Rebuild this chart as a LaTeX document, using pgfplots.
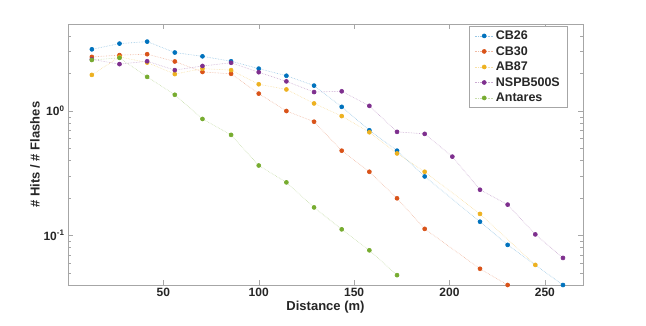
\documentclass[border=0pt]{standalone}
\usepackage{fontspec}
\setmainfont{Liberation Sans}
\usepackage{pgfplots}
\pgfplotsset{compat=1.18}

\definecolor{mblue}{rgb}{0,0.447,0.741}
\definecolor{mred}{rgb}{0.85,0.325,0.098}
\definecolor{myellow}{rgb}{0.929,0.694,0.125}
\definecolor{mpurple}{rgb}{0.494,0.184,0.556}
\definecolor{mgreen}{rgb}{0.466,0.674,0.188}

\pgfplotsset{
  ser/.style={#1!40, densely dotted, line width=0.6pt, mark=*, mark size=2pt,
              mark options={solid, #1}},
}

\begin{document}
\begin{tikzpicture}
  \useasboundingbox (-68pt,-40pt) rectangle (578pt,285pt);
  \begin{axis}[
    at={(0,0)}, anchor=south west,
    scale only axis,
    width=515pt, height=261pt,
    ymode=log,
    xmin=0, xmax=270,
    ymin=0.04, ymax=5,
    xtick={50,100,150,200,250},
    ytick={0.1,1},
    yticklabels={10\textsuperscript{-1},10\textsuperscript{0}},
    minor ytick={0.04,0.05,0.06,0.07,0.08,0.09,0.2,0.3,0.4,0.5,0.6,0.7,0.8,0.9,2,3,4,5},
    /pgf/number format/assume math mode=true,
    tick align=inside,
    major tick length=5pt,
    minor tick length=3pt,
    every tick/.style={gray!70},
    axis line style={gray!70},
    tick label style={font=\bfseries\fontsize{12}{14}\selectfont, text=black!85},
    xlabel={Distance (m)},
    ylabel={\# Hits / \# Flashes},
    xlabel style={font=\bfseries\fontsize{13}{15}\selectfont, text=black!85,
                  at={(axis description cs:0.5,-0.084)}, anchor=center},
    ylabel style={font=\bfseries\fontsize{13}{15}\selectfont, text=black!85,
                  at={(axis description cs:-0.064,0.5)}, anchor=center},
    clip=false,
    legend style={at={(0.969,0.992)}, anchor=north east, draw=gray!70,
                  font=\bfseries\fontsize{12.5}{14}\selectfont, text=black!85,
                  row sep=1.3pt, inner xsep=5pt, inner ysep=2.5pt},
    legend image code/.code={
      \draw[mark repeat=2, mark phase=2] plot coordinates {(0cm,0cm) (0.33cm,0cm) (0.66cm,0cm)};
    },
    legend cell align=left,
  ]
    \addplot[ser=mblue] coordinates {
      (12.5,3.13) (27,3.48) (41.5,3.61) (56,2.95) (70.5,2.75) (85.5,2.51)
      (100,2.19) (114.5,1.92) (129,1.60) (143.5,1.08) (158,0.70) (172.5,0.48)
      (187,0.298) (216,0.129) (230.5,0.084) (259.5,0.040)
    };
    \addlegendentry{CB26}
    \addplot[ser=mred] coordinates {
      (12.5,2.72) (27,2.81) (41.5,2.86) (56,2.50) (70.5,2.06) (85.5,1.99)
      (100,1.38) (114.5,1.00) (129,0.82) (143.5,0.48) (158,0.325) (172.5,0.199)
      (187,0.113) (216,0.054) (230.5,0.040)
    };
    \addlegendentry{CB30}
    \addplot[ser=myellow] coordinates {
      (12.5,1.95) (27,2.72) (41.5,2.45) (56,1.98) (70.5,2.19) (85.5,2.13)
      (100,1.64) (114.5,1.49) (129,1.15) (143.5,0.91) (158,0.675) (172.5,0.456)
      (187,0.325) (216,0.149) (245,0.058)
    };
    \addlegendentry{AB87}
    \addplot[ser=mpurple] coordinates {
      (12.5,2.6) (27,2.38) (41.5,2.51) (56,2.13) (70.5,2.30) (85.5,2.44)
      (100,2.05) (114.5,1.73) (129,1.42) (143.5,1.44) (158,1.10) (172.5,0.68)
      (187,0.655) (201.5,0.43) (216,0.233) (230.5,0.177) (245,0.102) (259.5,0.066)
    };
    \addlegendentry{NSPB500S}
    \addplot[ser=mgreen] coordinates {
      (12.5,2.57) (27,2.67) (41.5,1.88) (56,1.35) (70.5,0.863) (85.5,0.643)
      (100,0.365) (114.5,0.267) (129,0.168) (143.5,0.112) (158,0.076) (172.5,0.048)
    };
    \addlegendentry{Antares}
  \end{axis}
\end{tikzpicture}
\end{document}
